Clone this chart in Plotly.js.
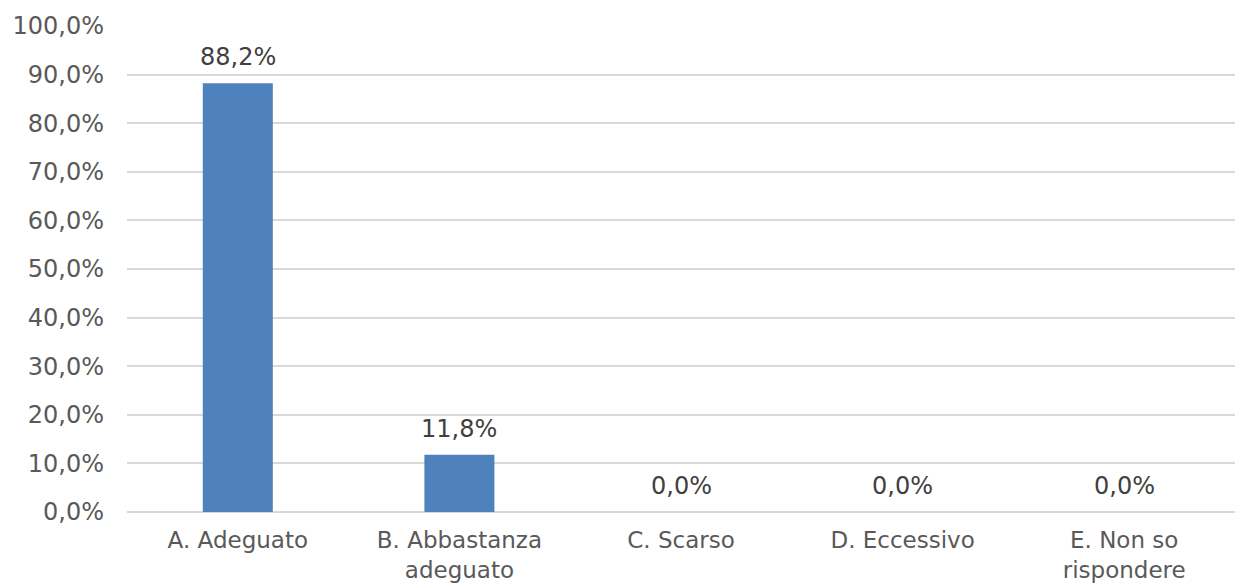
<!DOCTYPE html>
<html>
<head>
<meta charset="utf-8">
<script src="https://cdn.plot.ly/plotly-3.0.1.min.js"></script>
<style>html,body{margin:0;padding:0;background:#fff;}#chart{width:1235px;height:583px;}</style>
</head>
<body>
<div id="chart"></div>
<script>
const categories = ["A. Adeguato", "B. Abbastanza<br>adeguato", "C. Scarso", "D. Eccessivo", "E. Non so<br>rispondere"];
const values = [88.2, 11.8, 0.0, 0.0, 0.0];
const yTicks = [0, 10, 20, 30, 40, 50, 60, 70, 80, 90, 100];
const yTickLabels = ["0,0%", "10,0%", "20,0%", "30,0%", "40,0%", "50,0%", "60,0%", "70,0%", "80,0%", "90,0%", "100,0%"];

const fontFam = "DejaVu Sans, Verdana, sans-serif";
const fmt = v => v.toFixed(1).replace(".", ",") + "%";

const trace = {
  type: "bar",
  x: categories,
  y: values,
  marker: {color: "#4F81BD"},
  hoverinfo: "skip"
};
const annotations = categories.map((c, i) => ({
  x: c, y: values[i], xref: "x", yref: "y",
  text: fmt(values[i]), showarrow: false,
  yanchor: "bottom", yshift: 10,
  font: {family: fontFam, size: 24, color: "#404040"}
}));
const layout = {
  width: 1235, height: 583,
  margin: {l: 127, r: 0, t: 26, b: 71},
  paper_bgcolor: "#fff", plot_bgcolor: "#fff",
  bargap: 0.684,
  showlegend: false,
  font: {family: fontFam, size: 24, color: "#595959"},
  annotations: annotations,
  xaxis: {
    showgrid: false, showline: false, zeroline: false,
    ticks: "", tickfont: {family: fontFam, size: 23, color: "#595959"},
    ticklabelstandoff: 12
  },
  yaxis: {
    range: [0, 100], tickmode: "array", tickvals: yTicks, ticktext: yTickLabels,
    showgrid: true, gridcolor: "#D9D9D9", gridwidth: 2,
    zeroline: true, zerolinecolor: "#D9D9D9", zerolinewidth: 2,
    showline: false, ticks: "",
    tickfont: {family: fontFam, size: 24, color: "#595959"},
    ticklabelstandoff: 22
  }
};
Plotly.newPlot("chart", [trace], layout, {displayModeBar: false, staticPlot: true});
</script>
</body>
</html>
